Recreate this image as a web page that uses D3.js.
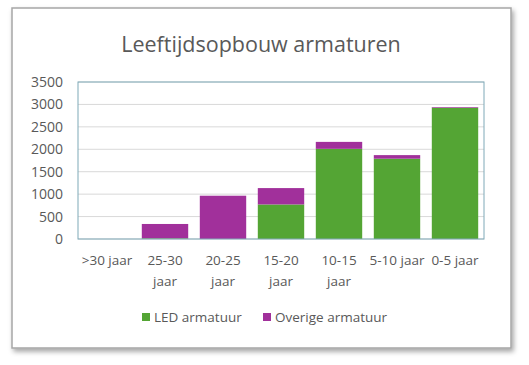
<!DOCTYPE html>
<html><head><meta charset="utf-8">
<script src="https://cdn.jsdelivr.net/npm/d3@7"></script>
<style>body{margin:0;background:#fff;}svg{display:block;font-family:"Open Sans",sans-serif;}</style>
</head><body>
<svg id="c" width="529" height="365"></svg>
<script>
const categories = [">30 jaar", "25-30 jaar", "20-25 jaar", "15-20 jaar", "10-15 jaar", "5-10 jaar", "0-5 jaar"];
const xLabelLines = [[">30 jaar"], ["25-30", "jaar"], ["20-25", "jaar"], ["15-20", "jaar"], ["10-15", "jaar"], ["5-10 jaar"], ["0-5 jaar"]];
const ledValues = [0, 15, 0, 770, 2010, 1790, 2925];
const otherValues = [0, 320, 965, 365, 155, 80, 15];
const seriesNames = ["LED armatuur", "Overige armatuur"];
const seriesColors = ["#54a534", "#a1309b"];
const yTicks = [0, 500, 1000, 1500, 2000, 2500, 3000, 3500];

const svg = d3.select("#c");
const defs = svg.append("defs");
const f = defs.append("filter").attr("id","sh").attr("x","-5%").attr("y","-5%").attr("width","110%").attr("height","115%");
f.append("feDropShadow").attr("dx",2).attr("dy",3).attr("stdDeviation",2.5).attr("flood-color","#000").attr("flood-opacity",0.35);

svg.append("rect").attr("x",12).attr("y",8).attr("width",499).attr("height",340)
  .attr("fill","#fff").attr("stroke","#a6a6a6").attr("stroke-width",1.5).attr("filter","url(#sh)");

const m = {l:78, r:484, t:82, b:239};
const x = d3.scaleBand().domain(categories).range([m.l, m.r]).paddingInner(0.2).paddingOuter(0.1);
const y = d3.scaleLinear().domain([0,3500]).range([m.b, m.t]);

svg.append("text").attr("x",261).attr("y",52).attr("text-anchor","middle")
  .attr("font-size",21.5).attr("fill","#595959").text("Leeftijdsopbouw armaturen");

// gridlines
svg.append("g").selectAll("line").data(yTicks).join("line")
  .attr("x1",m.l).attr("x2",m.r).attr("y1",d=>y(d)).attr("y2",d=>y(d))
  .attr("stroke","#d9d9d9").attr("stroke-width",1);

// y axis labels
const yAxis = d3.axisLeft(y).tickValues(yTicks).tickFormat(d3.format("d")).tickSize(0).tickPadding(15);
const ga = svg.append("g").attr("transform",`translate(${m.l},0)`).call(yAxis);
ga.select(".domain").remove();
ga.selectAll("text").attr("font-size",14).attr("fill","#595959").attr("font-family","'Open Sans',sans-serif");

// stacked bars
const stackData = categories.map((c,i)=>({cat:c, led:ledValues[i], other:otherValues[i]}));
const stack = d3.stack().keys(["led","other"])(stackData);
svg.append("g").selectAll("g").data(stack).join("g").attr("fill",(d,i)=>seriesColors[i])
  .selectAll("rect").data(d=>d).join("rect")
  .attr("x",d=>x(d.data.cat)).attr("width",x.bandwidth())
  .attr("y",d=>y(d[1])).attr("height",d=>Math.max(0,y(d[0])-y(d[1])));

// plot border
svg.append("rect").attr("x",m.l).attr("y",m.t).attr("width",m.r-m.l).attr("height",m.b-m.t)
  .attr("fill","none").attr("stroke","#7fa9b8").attr("stroke-width",1);

// x labels
const xg = svg.append("g");
categories.forEach((c,i)=>{
  const t = xg.append("text").attr("x",x(c)+x.bandwidth()/2).attr("y",265).attr("text-anchor","middle")
    .attr("font-size",13.5).attr("fill","#595959");
  xLabelLines[i].forEach((ln,j)=>t.append("tspan").attr("x",x(c)+x.bandwidth()/2).attr("dy",j?21:0).text(ln));
});

// legend
const legX = [142, 263];
seriesNames.forEach((n,i)=>{
  svg.append("rect").attr("x",legX[i]).attr("y",313).attr("width",8).attr("height",8).attr("fill",seriesColors[i]);
  svg.append("text").attr("x",legX[i]+12).attr("y",321.5).attr("font-size",13.5).attr("fill","#595959").text(n);
});
</script>
</body></html>
